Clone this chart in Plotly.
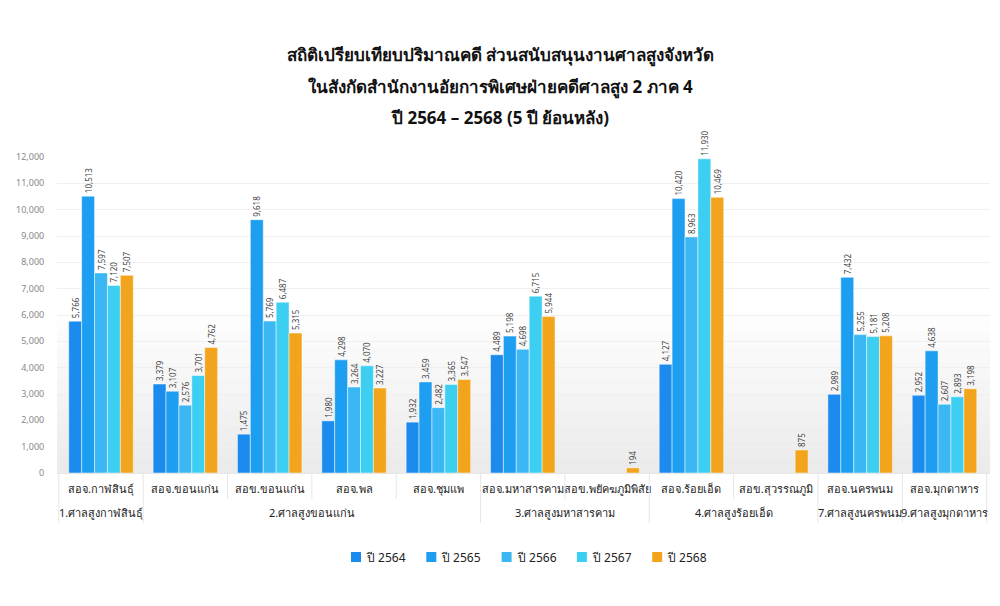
import plotly.graph_objects as go

# ========================= ข้อมูล =========================

groups = [
    "1.ศาลสูงกาฬสินธุ์",
    "2.ศาลสูงขอนแก่น", "2.ศาลสูงขอนแก่น", "2.ศาลสูงขอนแก่น", "2.ศาลสูงขอนแก่น",
    "3.ศาลสูงมหาสารคาม", "3.ศาลสูงมหาสารคาม",
    "4.ศาลสูงร้อยเอ็ด", "4.ศาลสูงร้อยเอ็ด",
    "7.ศาลสูงนครพนม",
    "9.ศาลสูงมุกดาหาร",
]
offices = [
    "สอจ.กาฬสินธุ์", "สอจ.ขอนแก่น", "สอข.ขอนแก่น", "สอจ.พล", "สอจ.ชุมแพ",
    "สอจ.มหาสารคาม", "สอข.พยัคฆภูมิพิสัย", "สอจ.ร้อยเอ็ด", "สอข.สุวรรณภูมิ",
    "สอจ.นครพนม", "สอจ.มุกดาหาร",
]

y2564 = [5766, 3379, 1475, 1980, 1932, 4489, None, 4127, None, 2989, 2952]
y2565 = [10513, 3107, 9618, 4298, 3459, 5198, None, 10420, None, 7432, 4638]
y2566 = [7597, 2576, 5769, 3264, 2482, 4698, None, 8963, None, 5255, 2607]
y2567 = [7120, 3701, 6487, 4070, 3365, 6715, None, 11930, None, 5181, 2893]
y2568 = [7507, 4762, 5315, 3227, 3547, 5944, 194, 10469, 875, 5208, 3198]

series_names = ["ปี 2564", "ปี 2565", "ปี 2566", "ปี 2567", "ปี 2568"]
colors = ["#1b8bee", "#1e9ef1", "#3bb8f4", "#3ccff2", "#f2a41c"]

title_lines = [
    "สถิติเปรียบเทียบปริมาณคดี ส่วนสนับสนุนงานศาลสูงจังหวัด",
    "ในสังกัดสำนักงานอัยการพิเศษฝ่ายคดีศาลสูง 2 ภาค 4",
    "ปี 2564 – 2568 (5 ปี ย้อนหลัง)",
]

FONT = "Tahoma, 'Noto Sans', 'DejaVu Sans', sans-serif"
GRID = "#e6e6e6"

# หน้า html มี body margin 8px จึงลดขนาดรูปลงให้พอดีหน้าต่าง
OFF = 8
W, H = 1000 - OFF, 606 - OFF
M_T, M_B, M_L, M_R = 157 - OFF, 133, 57 - OFF, 10
plot_h = H - M_T - M_B
plot_w = W - M_L - M_R


def py(page_y):
    # พิกัดพิกเซลของหน้า -> พิกัด paper ของพื้นที่กราฟ
    return 1 + (M_T - (page_y - OFF)) / plot_h


def px(page_x):
    return ((page_x - OFF) - M_L) / plot_w


# ========================= กราฟ =========================

fig = go.Figure()
for name, vals, col in zip(series_names, [y2564, y2565, y2566, y2567, y2568], colors):
    fig.add_trace(go.Bar(
        x=offices,
        y=vals,
        name=name,
        marker=dict(color=col, line=dict(color="rgba(255,255,255,0.6)", width=0.8)),
        text=[f"{v:,}" if v is not None else "" for v in vals],
        textposition="outside",
        textangle=-90,
        constraintext="none",
        textfont=dict(size=8, color="#444444", family=FONT),
        cliponaxis=False,
        showlegend=False,
    ))

# พื้นหลังไล่สีอ่อน ๆ ด้านล่าง
for i in range(10):
    fig.add_shape(type="rect", xref="paper", yref="y", x0=0, x1=1,
                  y0=0, y1=600 * (i + 1), fillcolor="rgba(0,0,0,0.006)",
                  line=dict(width=0), layer="below")

# ป้ายกลุ่มศาลสูง + เส้นแบ่งช่อง
n = len(offices)
starts = [0] + [k for k in range(1, n) if groups[k] != groups[k - 1]]
ends = starts[1:] + [n]
for s, e in zip(starts, ends):
    fig.add_annotation(text=groups[s], xref="x", yref="paper",
                       x=(s + e - 1) / 2, y=py(512), xanchor="center", yanchor="middle",
                       showarrow=False, font=dict(size=11, color="#222222", family=FONT))
for k in range(n + 1):
    major = k in starts or k == n
    fig.add_shape(type="line", xref="x", yref="paper",
                  x0=k - 0.5, x1=k - 0.5, y0=0, y1=py(523 if major else 499),
                  line=dict(color=GRID, width=1))

# หัวเรื่อง 3 บรรทัด
for txt, yy in zip(title_lines, [55, 87, 117]):
    fig.add_annotation(text=f"<b>{txt}</b>", xref="paper", yref="paper",
                       x=px(500), y=py(yy),
                       xanchor="center", yanchor="middle", showarrow=False,
                       font=dict(size=17, color="#111111", family=FONT))

# คำอธิบายสัญลักษณ์ (วาดเอง)
for i, (name, col) in enumerate(zip(series_names, colors)):
    lx = 351 + 75.3 * i
    fig.add_shape(type="rect", xref="paper", yref="paper",
                  x0=px(lx), x1=px(lx + 10), y0=py(562), y1=py(552),
                  fillcolor=col, line=dict(width=0))
    fig.add_annotation(text=name, xref="paper", yref="paper",
                       x=px(lx + 13), y=py(557), xanchor="left", yanchor="middle",
                       showarrow=False, font=dict(size=12, color="#222222", family=FONT))

fig.update_layout(
    width=W, height=H,
    barmode="group",
    bargap=0.235,
    bargroupgap=0,
    paper_bgcolor="white",
    plot_bgcolor="white",
    font=dict(family=FONT, color="#222222"),
    margin=dict(l=M_L, r=M_R, t=M_T, b=M_B, autoexpand=False),
    showlegend=False,
    xaxis=dict(
        type="category",
        tickfont=dict(size=11, color="#222222"),
        tickangle=0,
        showline=True,
        linecolor=GRID,
        ticks="outside",
        ticklen=6,
        tickcolor="rgba(0,0,0,0)",
        showgrid=False,
        automargin=False,
    ),
    yaxis=dict(
        range=[0, 12000],
        dtick=1000,
        tickformat=",",
        tickfont=dict(size=9, color="#888888"),
        ticks="outside",
        ticklen=10,
        tickcolor="rgba(0,0,0,0)",
        gridcolor="#f0f0f0",
        zeroline=False,
        showline=False,
        automargin=False,
    ),
)

fig.write_html("out.html")
